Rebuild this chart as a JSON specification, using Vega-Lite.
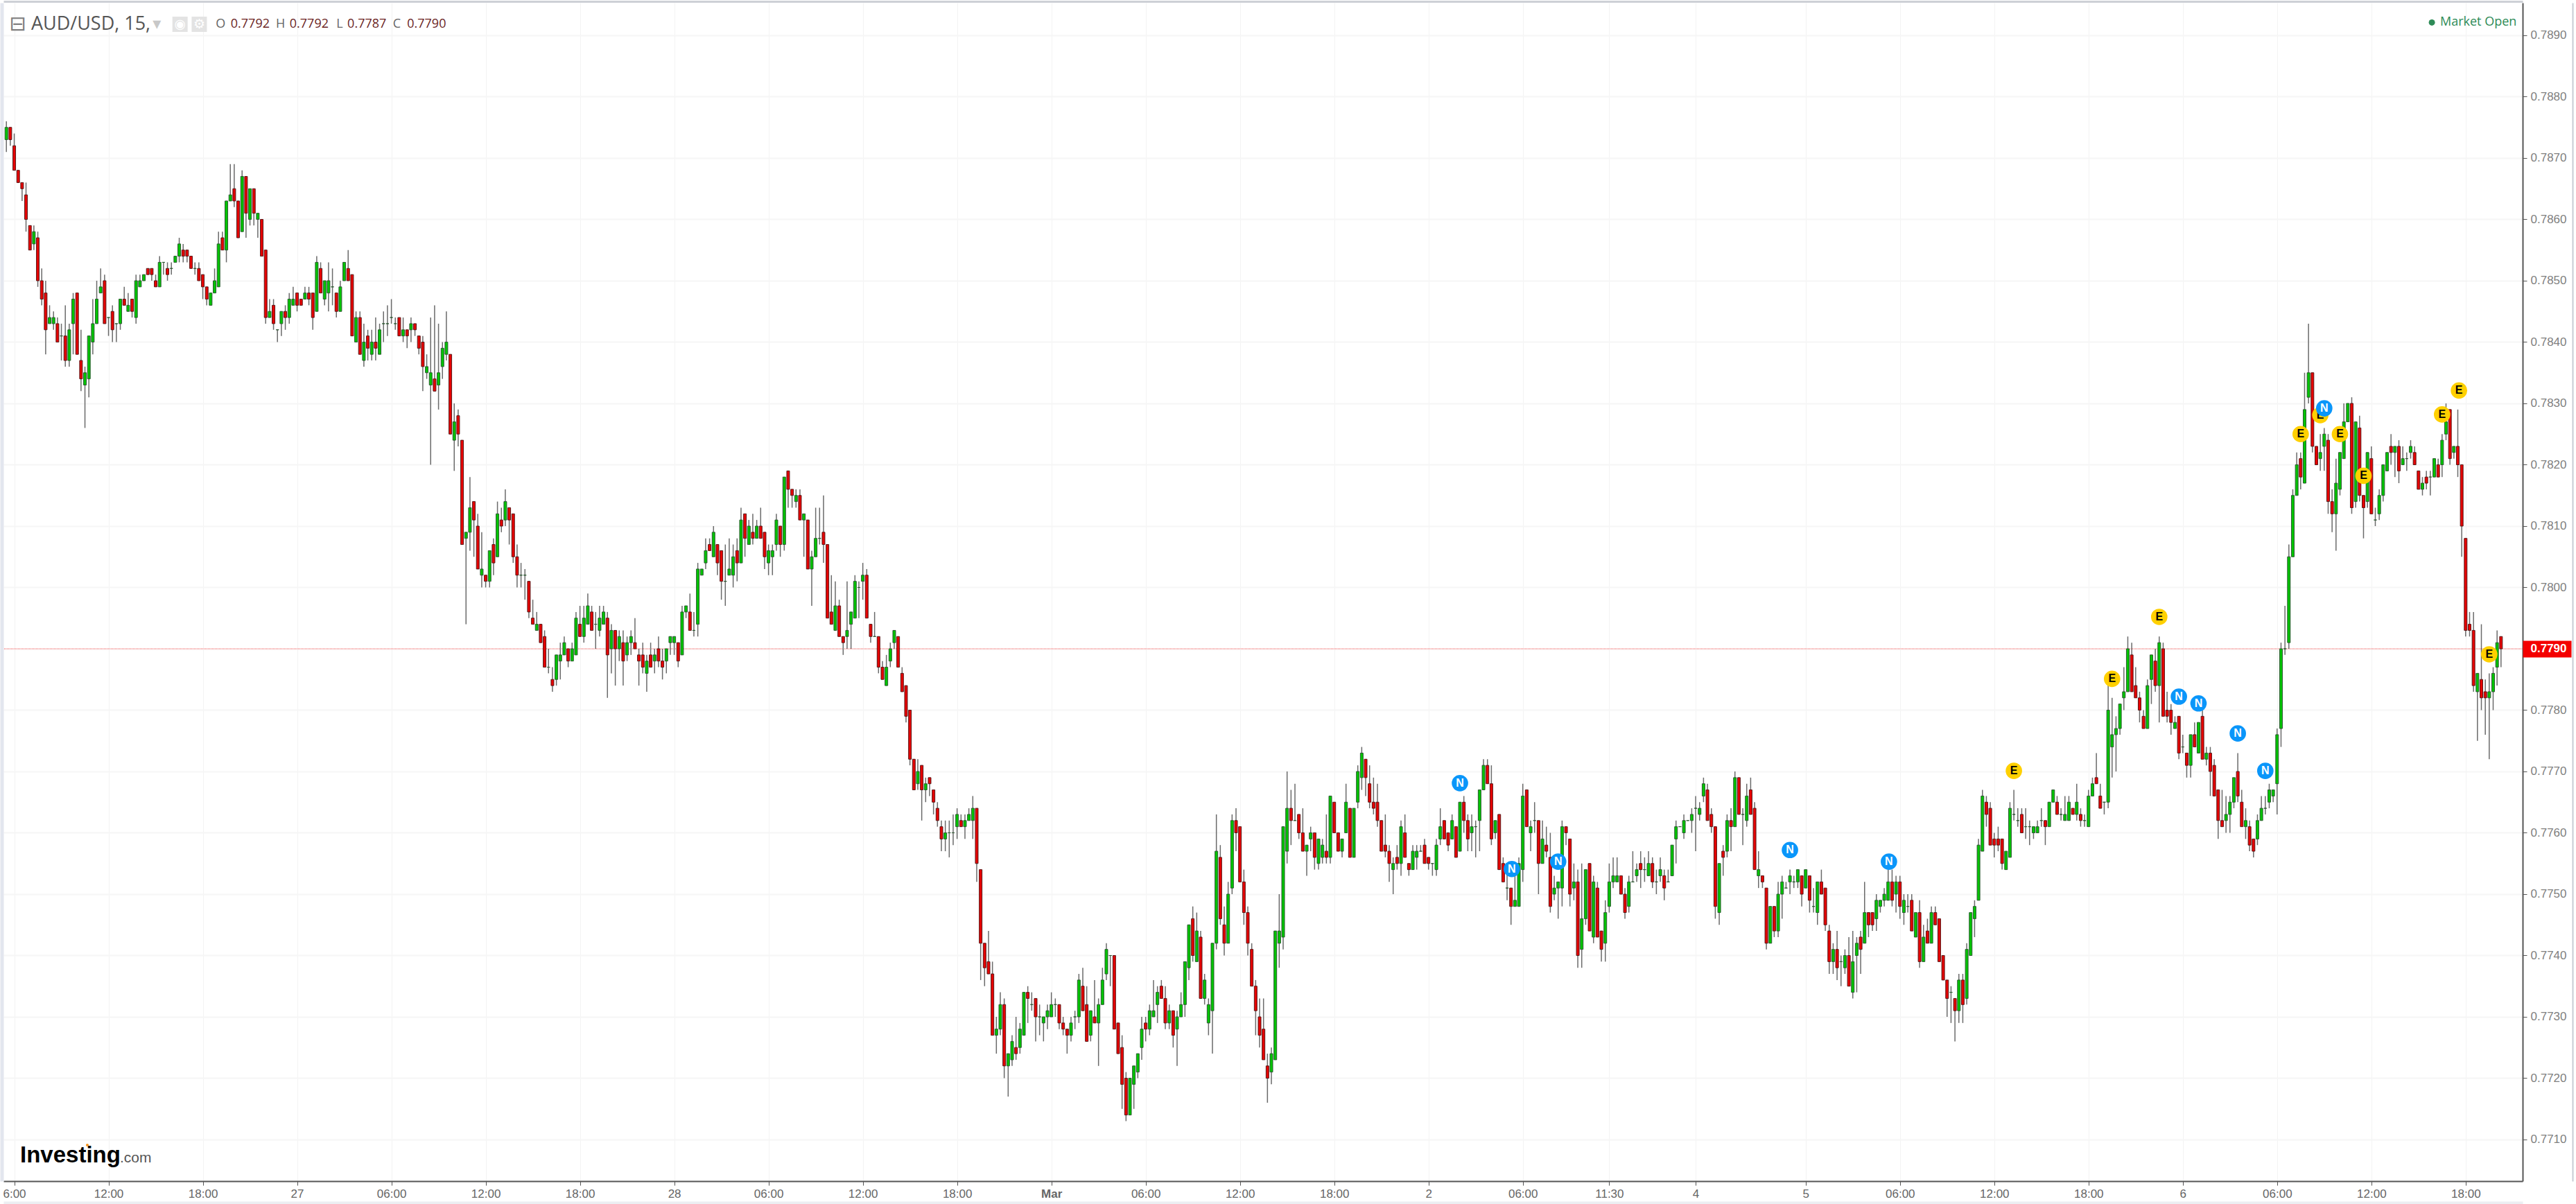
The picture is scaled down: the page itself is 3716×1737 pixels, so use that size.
{"$schema":"https://vega.github.io/schema/vega-lite/v6.json","width":3634,"height":1700,"autosize":"none","padding":{"left":5,"top":4,"right":77,"bottom":33},"background":"#ffffff","config":{"view":{"stroke":null},"scale":{"continuousPadding":0}},
"datasets":{"candles":[
{"i":0,"o":0.7873,"h":0.7876,"l":0.7871,"c":0.7875},{"i":1,"o":0.7875,"h":0.7875,"l":0.7872,"c":0.7873},{"i":2,"o":0.7872,"h":0.7874,"l":0.7868,"c":0.7868},{"i":3,"o":0.7868,"h":0.7868,"l":0.7866,"c":0.7866},{"i":4,"o":0.7866,"h":0.7866,"l":0.7863,"c":0.7865},{"i":5,"o":0.7864,"h":0.7866,"l":0.7858,"c":0.786},{"i":6,"o":0.7859,"h":0.7859,"l":0.7855,"c":0.7855},{"i":7,"o":0.7856,"h":0.7859,"l":0.7855,"c":0.7858},{"i":8,"o":0.7857,"h":0.7858,"l":0.7849,"c":0.785},{"i":9,"o":0.785,"h":0.7852,"l":0.7846,"c":0.7847},
{"i":10,"o":0.7848,"h":0.785,"l":0.7838,"c":0.7842},{"i":11,"o":0.7843,"h":0.7846,"l":0.7843,"c":0.7844},{"i":12,"o":0.7843,"h":0.7845,"l":0.7842,"c":0.7844},{"i":13,"o":0.7843,"h":0.7844,"l":0.784,"c":0.784},{"i":14,"o":0.7841,"h":0.7843,"l":0.7837,"c":0.7841},{"i":15,"o":0.7841,"h":0.7846,"l":0.7836,"c":0.7837},{"i":16,"o":0.7837,"h":0.7843,"l":0.7836,"c":0.7842},{"i":17,"o":0.7843,"h":0.7848,"l":0.7838,"c":0.7847},{"i":18,"o":0.7848,"h":0.7848,"l":0.7838,"c":0.7838},{"i":19,"o":0.7837,"h":0.7842,"l":0.7832,"c":0.7834},
{"i":20,"o":0.7833,"h":0.7836,"l":0.7826,"c":0.7835},{"i":21,"o":0.7834,"h":0.7841,"l":0.7831,"c":0.7841},{"i":22,"o":0.784,"h":0.7847,"l":0.7838,"c":0.7843},{"i":23,"o":0.7843,"h":0.785,"l":0.7843,"c":0.7847},{"i":24,"o":0.7848,"h":0.7852,"l":0.7848,"c":0.7849},{"i":25,"o":0.785,"h":0.7851,"l":0.7843,"c":0.7843},{"i":26,"o":0.7844,"h":0.7844,"l":0.7841,"c":0.7844},{"i":27,"o":0.7845,"h":0.7846,"l":0.784,"c":0.7842},{"i":28,"o":0.7843,"h":0.7843,"l":0.784,"c":0.7843},{"i":29,"o":0.7843,"h":0.7847,"l":0.7842,"c":0.7847},
{"i":30,"o":0.7847,"h":0.7849,"l":0.7846,"c":0.7846},{"i":31,"o":0.7845,"h":0.7848,"l":0.7845,"c":0.7846},{"i":32,"o":0.7847,"h":0.7847,"l":0.7844,"c":0.7845},{"i":33,"o":0.7844,"h":0.7851,"l":0.7843,"c":0.785},{"i":34,"o":0.7849,"h":0.7851,"l":0.7849,"c":0.785},{"i":35,"o":0.785,"h":0.7851,"l":0.785,"c":0.7851},{"i":36,"o":0.7852,"h":0.7852,"l":0.7851,"c":0.7851},{"i":37,"o":0.7852,"h":0.7852,"l":0.785,"c":0.7851},{"i":38,"o":0.785,"h":0.7851,"l":0.7849,"c":0.7849},{"i":39,"o":0.7849,"h":0.7854,"l":0.7849,"c":0.7853},
{"i":40,"o":0.7853,"h":0.7853,"l":0.7851,"c":0.7853},{"i":41,"o":0.7852,"h":0.7853,"l":0.785,"c":0.7851},{"i":42,"o":0.7852,"h":0.7853,"l":0.7851,"c":0.7852},{"i":43,"o":0.7853,"h":0.7854,"l":0.7853,"c":0.7854},{"i":44,"o":0.7854,"h":0.7857,"l":0.7853,"c":0.7856},{"i":45,"o":0.7855,"h":0.7856,"l":0.7853,"c":0.7854},{"i":46,"o":0.7855,"h":0.7855,"l":0.7853,"c":0.7854},{"i":47,"o":0.7854,"h":0.7854,"l":0.7852,"c":0.7852},{"i":48,"o":0.7852,"h":0.7853,"l":0.7851,"c":0.7852},{"i":49,"o":0.7852,"h":0.7853,"l":0.785,"c":0.785},
{"i":50,"o":0.7851,"h":0.7851,"l":0.7847,"c":0.7849},{"i":51,"o":0.7849,"h":0.7849,"l":0.7846,"c":0.7847},{"i":52,"o":0.7846,"h":0.7848,"l":0.7846,"c":0.7848},{"i":53,"o":0.7848,"h":0.7852,"l":0.7848,"c":0.785},{"i":54,"o":0.7849,"h":0.7858,"l":0.7849,"c":0.7856},{"i":55,"o":0.7857,"h":0.7858,"l":0.7855,"c":0.7855},{"i":56,"o":0.7855,"h":0.7863,"l":0.7853,"c":0.7863},{"i":57,"o":0.7863,"h":0.7869,"l":0.7863,"c":0.7864},{"i":58,"o":0.7865,"h":0.7869,"l":0.7862,"c":0.7863},{"i":59,"o":0.7863,"h":0.7863,"l":0.7857,"c":0.7857},
{"i":60,"o":0.7858,"h":0.7868,"l":0.7858,"c":0.7867},{"i":61,"o":0.7867,"h":0.7867,"l":0.7857,"c":0.7861},{"i":62,"o":0.786,"h":0.7865,"l":0.7859,"c":0.7865},{"i":63,"o":0.7865,"h":0.7865,"l":0.7859,"c":0.7861},{"i":64,"o":0.786,"h":0.7861,"l":0.7857,"c":0.7861},{"i":65,"o":0.786,"h":0.786,"l":0.7854,"c":0.7854},{"i":66,"o":0.7855,"h":0.7855,"l":0.7843,"c":0.7844},{"i":67,"o":0.7844,"h":0.7847,"l":0.7844,"c":0.7845},{"i":68,"o":0.7846,"h":0.7847,"l":0.7842,"c":0.7843},{"i":69,"o":0.7842,"h":0.7842,"l":0.784,"c":0.7842},
{"i":70,"o":0.7843,"h":0.7845,"l":0.7841,"c":0.7845},{"i":71,"o":0.7845,"h":0.7846,"l":0.7842,"c":0.7844},{"i":72,"o":0.7844,"h":0.7848,"l":0.7843,"c":0.7847},{"i":73,"o":0.7846,"h":0.7849,"l":0.7846,"c":0.7847},{"i":74,"o":0.7848,"h":0.7848,"l":0.7845,"c":0.7846},{"i":75,"o":0.7847,"h":0.7847,"l":0.7846,"c":0.7846},{"i":76,"o":0.7847,"h":0.7849,"l":0.7847,"c":0.7848},{"i":77,"o":0.7848,"h":0.7849,"l":0.7846,"c":0.7847},{"i":78,"o":0.7848,"h":0.7848,"l":0.7842,"c":0.7844},{"i":79,"o":0.7845,"h":0.7854,"l":0.7845,"c":0.7853},
{"i":80,"o":0.7852,"h":0.7853,"l":0.7848,"c":0.7848},{"i":81,"o":0.7847,"h":0.785,"l":0.7846,"c":0.785},{"i":82,"o":0.7848,"h":0.7853,"l":0.7845,"c":0.785},{"i":83,"o":0.7849,"h":0.7852,"l":0.7846,"c":0.7849},{"i":84,"o":0.7848,"h":0.7848,"l":0.7844,"c":0.7845},{"i":85,"o":0.7845,"h":0.785,"l":0.7845,"c":0.7849},{"i":86,"o":0.785,"h":0.7853,"l":0.785,"c":0.7853},{"i":87,"o":0.7852,"h":0.7855,"l":0.785,"c":0.785},{"i":88,"o":0.7851,"h":0.7851,"l":0.7841,"c":0.7841},{"i":89,"o":0.784,"h":0.7845,"l":0.784,"c":0.7844},
{"i":90,"o":0.7844,"h":0.7845,"l":0.7838,"c":0.7838},{"i":91,"o":0.7837,"h":0.7843,"l":0.7836,"c":0.784},{"i":92,"o":0.7841,"h":0.7842,"l":0.7837,"c":0.7839},{"i":93,"o":0.7838,"h":0.7842,"l":0.7837,"c":0.784},{"i":94,"o":0.784,"h":0.7844,"l":0.7837,"c":0.7839},{"i":95,"o":0.7838,"h":0.7843,"l":0.7838,"c":0.7842},{"i":96,"o":0.7843,"h":0.7845,"l":0.784,"c":0.7843},{"i":97,"o":0.7843,"h":0.7846,"l":0.7841,"c":0.7843},{"i":98,"o":0.7844,"h":0.7847,"l":0.7843,"c":0.7844},{"i":99,"o":0.7843,"h":0.7844,"l":0.7842,"c":0.7843},
{"i":100,"o":0.7844,"h":0.7844,"l":0.7841,"c":0.7841},{"i":101,"o":0.7841,"h":0.7844,"l":0.784,"c":0.7842},{"i":102,"o":0.7842,"h":0.7842,"l":0.7839,"c":0.7841},{"i":103,"o":0.7842,"h":0.7844,"l":0.784,"c":0.7843},{"i":104,"o":0.7843,"h":0.7843,"l":0.7841,"c":0.7842},{"i":105,"o":0.7841,"h":0.7841,"l":0.7838,"c":0.7839},{"i":106,"o":0.784,"h":0.7841,"l":0.7832,"c":0.7836},{"i":107,"o":0.7835,"h":0.7838,"l":0.7834,"c":0.7836},{"i":108,"o":0.7833,"h":0.7844,"l":0.782,"c":0.7835},{"i":109,"o":0.7834,"h":0.7846,"l":0.7832,"c":0.7832},
{"i":110,"o":0.7833,"h":0.7843,"l":0.7829,"c":0.7835},{"i":111,"o":0.7836,"h":0.784,"l":0.7834,"c":0.7839},{"i":112,"o":0.7838,"h":0.7845,"l":0.7837,"c":0.784},{"i":113,"o":0.7838,"h":0.7838,"l":0.7825,"c":0.7825},{"i":114,"o":0.7824,"h":0.783,"l":0.7819,"c":0.7827},{"i":115,"o":0.7828,"h":0.7829,"l":0.7823,"c":0.7825},{"i":116,"o":0.7824,"h":0.7824,"l":0.7807,"c":0.7807},{"i":117,"o":0.7808,"h":0.7809,"l":0.7794,"c":0.7809},{"i":118,"o":0.7809,"h":0.7818,"l":0.7806,"c":0.7813},{"i":119,"o":0.7814,"h":0.7814,"l":0.7805,"c":0.7811},
{"i":120,"o":0.781,"h":0.7812,"l":0.7803,"c":0.7803},{"i":121,"o":0.7802,"h":0.7809,"l":0.78,"c":0.7803},{"i":122,"o":0.7802,"h":0.7802,"l":0.78,"c":0.7801},{"i":123,"o":0.7801,"h":0.7806,"l":0.78,"c":0.7806},{"i":124,"o":0.7807,"h":0.7808,"l":0.7802,"c":0.7804},{"i":125,"o":0.7805,"h":0.7814,"l":0.7805,"c":0.7812},{"i":126,"o":0.7811,"h":0.7813,"l":0.7809,"c":0.781},{"i":127,"o":0.7811,"h":0.7816,"l":0.781,"c":0.7814},{"i":128,"o":0.7813,"h":0.7813,"l":0.7807,"c":0.7811},{"i":129,"o":0.7812,"h":0.7812,"l":0.7804,"c":0.7805},
{"i":130,"o":0.7805,"h":0.7807,"l":0.78,"c":0.7802},{"i":131,"o":0.7802,"h":0.7804,"l":0.78,"c":0.7802},{"i":132,"o":0.7802,"h":0.7803,"l":0.7798,"c":0.7802},{"i":133,"o":0.7801,"h":0.7801,"l":0.7795,"c":0.7796},{"i":134,"o":0.7795,"h":0.7798,"l":0.7794,"c":0.7794},{"i":135,"o":0.7793,"h":0.7796,"l":0.7793,"c":0.7794},{"i":136,"o":0.7794,"h":0.7794,"l":0.7791,"c":0.7791},{"i":137,"o":0.7792,"h":0.7793,"l":0.7787,"c":0.7787},{"i":138,"o":0.7787,"h":0.779,"l":0.7786,"c":0.7787},{"i":139,"o":0.7785,"h":0.7787,"l":0.7783,"c":0.7784},
{"i":140,"o":0.7785,"h":0.7789,"l":0.7784,"c":0.7789},{"i":141,"o":0.7788,"h":0.7791,"l":0.7785,"c":0.7789},{"i":142,"o":0.7789,"h":0.7792,"l":0.7789,"c":0.7791},{"i":143,"o":0.779,"h":0.779,"l":0.7787,"c":0.7788},{"i":144,"o":0.7788,"h":0.7791,"l":0.7788,"c":0.779},{"i":145,"o":0.7789,"h":0.7796,"l":0.7789,"c":0.7795},{"i":146,"o":0.7794,"h":0.7797,"l":0.7792,"c":0.7792},{"i":147,"o":0.7792,"h":0.7797,"l":0.7791,"c":0.7795},{"i":148,"o":0.7794,"h":0.7799,"l":0.7794,"c":0.7797},{"i":149,"o":0.7796,"h":0.7797,"l":0.7793,"c":0.7793},
{"i":150,"o":0.7794,"h":0.7796,"l":0.779,"c":0.7794},{"i":151,"o":0.7793,"h":0.7797,"l":0.7792,"c":0.7795},{"i":152,"o":0.7794,"h":0.7797,"l":0.7794,"c":0.7796},{"i":153,"o":0.7795,"h":0.7796,"l":0.7782,"c":0.7789},{"i":154,"o":0.779,"h":0.7794,"l":0.7786,"c":0.7793},{"i":155,"o":0.7793,"h":0.7793,"l":0.7784,"c":0.779},{"i":156,"o":0.779,"h":0.7793,"l":0.7788,"c":0.7792},{"i":157,"o":0.7791,"h":0.7793,"l":0.7784,"c":0.7788},{"i":158,"o":0.7789,"h":0.7792,"l":0.7788,"c":0.7791},{"i":159,"o":0.7791,"h":0.7793,"l":0.7789,"c":0.7792},
{"i":160,"o":0.7791,"h":0.7795,"l":0.779,"c":0.779},{"i":161,"o":0.7789,"h":0.779,"l":0.7784,"c":0.7788},{"i":162,"o":0.7789,"h":0.7791,"l":0.7786,"c":0.7787},{"i":163,"o":0.7786,"h":0.7789,"l":0.7783,"c":0.7788},{"i":164,"o":0.7789,"h":0.7791,"l":0.7787,"c":0.7787},{"i":165,"o":0.7788,"h":0.779,"l":0.7786,"c":0.7789},{"i":166,"o":0.779,"h":0.7792,"l":0.7787,"c":0.7788},{"i":167,"o":0.7788,"h":0.779,"l":0.7785,"c":0.7787},{"i":168,"o":0.7788,"h":0.779,"l":0.7786,"c":0.779},{"i":169,"o":0.7791,"h":0.7792,"l":0.7789,"c":0.7792},
{"i":170,"o":0.7791,"h":0.7792,"l":0.7789,"c":0.7792},{"i":171,"o":0.7791,"h":0.7791,"l":0.7787,"c":0.7788},{"i":172,"o":0.7789,"h":0.7797,"l":0.7789,"c":0.7796},{"i":173,"o":0.7796,"h":0.7797,"l":0.7795,"c":0.7797},{"i":174,"o":0.7796,"h":0.7799,"l":0.7793,"c":0.7793},{"i":175,"o":0.7793,"h":0.7796,"l":0.7792,"c":0.7793},{"i":176,"o":0.7794,"h":0.7804,"l":0.7792,"c":0.7803},{"i":177,"o":0.7802,"h":0.7803,"l":0.7802,"c":0.7803},{"i":178,"o":0.7804,"h":0.7808,"l":0.7803,"c":0.7806},{"i":179,"o":0.7807,"h":0.7808,"l":0.7806,"c":0.7806},
{"i":180,"o":0.7805,"h":0.781,"l":0.7805,"c":0.7809},{"i":181,"o":0.7807,"h":0.7807,"l":0.7802,"c":0.7804},{"i":182,"o":0.7806,"h":0.7806,"l":0.7798,"c":0.7801},{"i":183,"o":0.7801,"h":0.7807,"l":0.7797,"c":0.7801},{"i":184,"o":0.7802,"h":0.7808,"l":0.7802,"c":0.7803},{"i":185,"o":0.7802,"h":0.7807,"l":0.78,"c":0.7805},{"i":186,"o":0.7806,"h":0.7808,"l":0.7801,"c":0.7804},{"i":187,"o":0.7804,"h":0.7813,"l":0.7804,"c":0.7811},{"i":188,"o":0.7812,"h":0.7812,"l":0.7805,"c":0.7808},{"i":189,"o":0.7807,"h":0.7811,"l":0.7807,"c":0.781},
{"i":190,"o":0.7809,"h":0.7812,"l":0.7807,"c":0.7808},{"i":191,"o":0.7808,"h":0.7811,"l":0.7808,"c":0.781},{"i":192,"o":0.781,"h":0.7813,"l":0.7808,"c":0.7808},{"i":193,"o":0.7809,"h":0.7809,"l":0.7803,"c":0.7805},{"i":194,"o":0.7804,"h":0.7807,"l":0.7802,"c":0.7806},{"i":195,"o":0.7805,"h":0.7807,"l":0.7802,"c":0.7806},{"i":196,"o":0.7807,"h":0.7812,"l":0.7806,"c":0.7811},{"i":197,"o":0.781,"h":0.781,"l":0.7805,"c":0.7807},{"i":198,"o":0.7807,"h":0.7818,"l":0.7806,"c":0.7818},{"i":199,"o":0.7819,"h":0.7819,"l":0.7813,"c":0.7816},
{"i":200,"o":0.7816,"h":0.7816,"l":0.7813,"c":0.7815},{"i":201,"o":0.7814,"h":0.7816,"l":0.7813,"c":0.7815},{"i":202,"o":0.7815,"h":0.7816,"l":0.7811,"c":0.7811},{"i":203,"o":0.7811,"h":0.7812,"l":0.7805,"c":0.7812},{"i":204,"o":0.7811,"h":0.7811,"l":0.7803,"c":0.7803},{"i":205,"o":0.7803,"h":0.7806,"l":0.7797,"c":0.7805},{"i":206,"o":0.7805,"h":0.7813,"l":0.7805,"c":0.7808},{"i":207,"o":0.7808,"h":0.7813,"l":0.7807,"c":0.7808},{"i":208,"o":0.7809,"h":0.7815,"l":0.7804,"c":0.7807},{"i":209,"o":0.7807,"h":0.7807,"l":0.7795,"c":0.7795},
{"i":210,"o":0.7796,"h":0.7802,"l":0.7794,"c":0.7794},{"i":211,"o":0.7793,"h":0.7801,"l":0.7793,"c":0.7797},{"i":212,"o":0.7797,"h":0.7798,"l":0.7792,"c":0.7792},{"i":213,"o":0.7792,"h":0.7792,"l":0.7789,"c":0.7791},{"i":214,"o":0.7792,"h":0.7801,"l":0.779,"c":0.7793},{"i":215,"o":0.7794,"h":0.7796,"l":0.779,"c":0.7796},{"i":216,"o":0.7795,"h":0.7802,"l":0.7795,"c":0.7801},{"i":217,"o":0.78,"h":0.7801,"l":0.7795,"c":0.78},{"i":218,"o":0.7801,"h":0.7804,"l":0.7798,"c":0.7802},{"i":219,"o":0.7802,"h":0.7803,"l":0.7795,"c":0.7795},
{"i":220,"o":0.7794,"h":0.7794,"l":0.7791,"c":0.7792},{"i":221,"o":0.7792,"h":0.7796,"l":0.7792,"c":0.7792},{"i":222,"o":0.7792,"h":0.7792,"l":0.7786,"c":0.7787},{"i":223,"o":0.7787,"h":0.7788,"l":0.7785,"c":0.7785},{"i":224,"o":0.7784,"h":0.7789,"l":0.7784,"c":0.7787},{"i":225,"o":0.7788,"h":0.7791,"l":0.7787,"c":0.779},{"i":226,"o":0.7791,"h":0.7793,"l":0.779,"c":0.7793},{"i":227,"o":0.7792,"h":0.7792,"l":0.7787,"c":0.7787},{"i":228,"o":0.7786,"h":0.7787,"l":0.7783,"c":0.7783},{"i":229,"o":0.7784,"h":0.7784,"l":0.7778,"c":0.7779},
{"i":230,"o":0.778,"h":0.778,"l":0.7771,"c":0.7772},{"i":231,"o":0.7772,"h":0.7772,"l":0.7767,"c":0.7767},{"i":232,"o":0.7768,"h":0.7772,"l":0.7767,"c":0.777},{"i":233,"o":0.7771,"h":0.7771,"l":0.7762,"c":0.7767},{"i":234,"o":0.7767,"h":0.7769,"l":0.7765,"c":0.7768},{"i":235,"o":0.7769,"h":0.7769,"l":0.7766,"c":0.7768},{"i":236,"o":0.7767,"h":0.7767,"l":0.7763,"c":0.7765},{"i":237,"o":0.7764,"h":0.7765,"l":0.7761,"c":0.7762},{"i":238,"o":0.7761,"h":0.7762,"l":0.7757,"c":0.7759},{"i":239,"o":0.7759,"h":0.7762,"l":0.7757,"c":0.776},
{"i":240,"o":0.776,"h":0.7762,"l":0.7756,"c":0.776},{"i":241,"o":0.776,"h":0.7763,"l":0.7758,"c":0.776},{"i":242,"o":0.7761,"h":0.7764,"l":0.7759,"c":0.7763},{"i":243,"o":0.7762,"h":0.7763,"l":0.7761,"c":0.7761},{"i":244,"o":0.7761,"h":0.7763,"l":0.7759,"c":0.7762},{"i":245,"o":0.7762,"h":0.7764,"l":0.7762,"c":0.7763},{"i":246,"o":0.7762,"h":0.7766,"l":0.7759,"c":0.7764},{"i":247,"o":0.7764,"h":0.7764,"l":0.7752,"c":0.7755},{"i":248,"o":0.7754,"h":0.7754,"l":0.7736,"c":0.7742},{"i":249,"o":0.7742,"h":0.7742,"l":0.7735,"c":0.7738},
{"i":250,"o":0.7739,"h":0.7744,"l":0.7737,"c":0.7737},{"i":251,"o":0.7737,"h":0.7739,"l":0.7727,"c":0.7727},{"i":252,"o":0.7727,"h":0.773,"l":0.7724,"c":0.7728},{"i":253,"o":0.7728,"h":0.7734,"l":0.7727,"c":0.7732},{"i":254,"o":0.7732,"h":0.7733,"l":0.772,"c":0.7722},{"i":255,"o":0.7722,"h":0.7724,"l":0.7717,"c":0.7724},{"i":256,"o":0.7723,"h":0.7727,"l":0.7722,"c":0.7726},{"i":257,"o":0.7725,"h":0.773,"l":0.7723,"c":0.7724},{"i":258,"o":0.7725,"h":0.7729,"l":0.7724,"c":0.7728},{"i":259,"o":0.7727,"h":0.7734,"l":0.7727,"c":0.7734},
{"i":260,"o":0.7734,"h":0.7735,"l":0.7729,"c":0.7733},{"i":261,"o":0.7732,"h":0.7734,"l":0.7731,"c":0.7732},{"i":262,"o":0.7733,"h":0.7733,"l":0.7726,"c":0.773},{"i":263,"o":0.773,"h":0.7732,"l":0.7727,"c":0.773},{"i":264,"o":0.7729,"h":0.773,"l":0.7726,"c":0.773},{"i":265,"o":0.773,"h":0.7732,"l":0.7728,"c":0.7731},{"i":266,"o":0.773,"h":0.7734,"l":0.773,"c":0.7732},{"i":267,"o":0.7732,"h":0.7733,"l":0.773,"c":0.7732},{"i":268,"o":0.7732,"h":0.7732,"l":0.7728,"c":0.7729},{"i":269,"o":0.7729,"h":0.773,"l":0.7727,"c":0.7728},
{"i":270,"o":0.7728,"h":0.7728,"l":0.7724,"c":0.7727},{"i":271,"o":0.7727,"h":0.773,"l":0.7726,"c":0.7729},{"i":272,"o":0.773,"h":0.7731,"l":0.7728,"c":0.773},{"i":273,"o":0.773,"h":0.7737,"l":0.7729,"c":0.7736},{"i":274,"o":0.7735,"h":0.7738,"l":0.7731,"c":0.7731},{"i":275,"o":0.7732,"h":0.7735,"l":0.7726,"c":0.7726},{"i":276,"o":0.7727,"h":0.7731,"l":0.7726,"c":0.7731},{"i":277,"o":0.773,"h":0.7736,"l":0.7729,"c":0.7729},{"i":278,"o":0.7729,"h":0.7733,"l":0.7722,"c":0.7732},{"i":279,"o":0.7732,"h":0.7738,"l":0.7732,"c":0.7736},
{"i":280,"o":0.7737,"h":0.7742,"l":0.7736,"c":0.7741},{"i":281,"o":0.774,"h":0.774,"l":0.7735,"c":0.774},{"i":282,"o":0.774,"h":0.774,"l":0.7728,"c":0.7728},{"i":283,"o":0.7729,"h":0.7729,"l":0.7724,"c":0.7724},{"i":284,"o":0.7725,"h":0.7727,"l":0.7715,"c":0.7719},{"i":285,"o":0.772,"h":0.7721,"l":0.7713,"c":0.7714},{"i":286,"o":0.7714,"h":0.772,"l":0.7714,"c":0.772},{"i":287,"o":0.7719,"h":0.7722,"l":0.7715,"c":0.7722},{"i":288,"o":0.7721,"h":0.7724,"l":0.772,"c":0.7724},{"i":289,"o":0.7725,"h":0.773,"l":0.7723,"c":0.7728},
{"i":290,"o":0.7729,"h":0.773,"l":0.7726,"c":0.7728},{"i":291,"o":0.7728,"h":0.7732,"l":0.7727,"c":0.7731},{"i":292,"o":0.773,"h":0.7736,"l":0.773,"c":0.7731},{"i":293,"o":0.7732,"h":0.7735,"l":0.7729,"c":0.7734},{"i":294,"o":0.7735,"h":0.7736,"l":0.7733,"c":0.7733},{"i":295,"o":0.7733,"h":0.7735,"l":0.7728,"c":0.7729},{"i":296,"o":0.7729,"h":0.7732,"l":0.7728,"c":0.7731},{"i":297,"o":0.7731,"h":0.7731,"l":0.7725,"c":0.7727},{"i":298,"o":0.7728,"h":0.7731,"l":0.7722,"c":0.773},{"i":299,"o":0.773,"h":0.7734,"l":0.773,"c":0.7732},
{"i":300,"o":0.7732,"h":0.7739,"l":0.773,"c":0.7739},{"i":301,"o":0.7738,"h":0.7745,"l":0.7736,"c":0.7745},{"i":302,"o":0.7746,"h":0.7748,"l":0.7739,"c":0.774},{"i":303,"o":0.7739,"h":0.7747,"l":0.7739,"c":0.7744},{"i":304,"o":0.7743,"h":0.7744,"l":0.7733,"c":0.7733},{"i":305,"o":0.7733,"h":0.7737,"l":0.7732,"c":0.7736},{"i":306,"o":0.7729,"h":0.7733,"l":0.7727,"c":0.7732},{"i":307,"o":0.7731,"h":0.7742,"l":0.7724,"c":0.7742},{"i":308,"o":0.7742,"h":0.7763,"l":0.7741,"c":0.7757},{"i":309,"o":0.7756,"h":0.7758,"l":0.7745,"c":0.7746},
{"i":310,"o":0.7745,"h":0.7748,"l":0.774,"c":0.7742},{"i":311,"o":0.7742,"h":0.7752,"l":0.7742,"c":0.775},{"i":312,"o":0.7751,"h":0.7763,"l":0.775,"c":0.7762},{"i":313,"o":0.7762,"h":0.7764,"l":0.7757,"c":0.776},{"i":314,"o":0.7761,"h":0.7761,"l":0.7752,"c":0.7752},{"i":315,"o":0.7752,"h":0.7754,"l":0.7745,"c":0.7747},{"i":316,"o":0.7747,"h":0.7748,"l":0.774,"c":0.7742},{"i":317,"o":0.7741,"h":0.7742,"l":0.7735,"c":0.7735},{"i":318,"o":0.7735,"h":0.7736,"l":0.7727,"c":0.7731},{"i":319,"o":0.773,"h":0.7733,"l":0.7725,"c":0.7727},
{"i":320,"o":0.7728,"h":0.7733,"l":0.7723,"c":0.7723},{"i":321,"o":0.7722,"h":0.7724,"l":0.7716,"c":0.772},{"i":322,"o":0.7721,"h":0.7725,"l":0.7719,"c":0.7724},{"i":323,"o":0.7723,"h":0.7744,"l":0.7723,"c":0.7744},{"i":324,"o":0.7742,"h":0.775,"l":0.7738,"c":0.7744},{"i":325,"o":0.7743,"h":0.7761,"l":0.7741,"c":0.7761},{"i":326,"o":0.7757,"h":0.777,"l":0.7755,"c":0.7764},{"i":327,"o":0.7764,"h":0.7767,"l":0.7758,"c":0.7762},{"i":328,"o":0.7762,"h":0.7768,"l":0.7762,"c":0.7762},{"i":329,"o":0.7763,"h":0.7763,"l":0.7759,"c":0.776},
{"i":330,"o":0.776,"h":0.7764,"l":0.7757,"c":0.7757},{"i":331,"o":0.7757,"h":0.7758,"l":0.7753,"c":0.7758},{"i":332,"o":0.7759,"h":0.7761,"l":0.7757,"c":0.776},{"i":333,"o":0.776,"h":0.776,"l":0.7754,"c":0.7756},{"i":334,"o":0.7755,"h":0.7759,"l":0.7754,"c":0.7759},{"i":335,"o":0.7756,"h":0.7759,"l":0.7755,"c":0.7758},{"i":336,"o":0.7757,"h":0.7763,"l":0.7755,"c":0.7756},{"i":337,"o":0.7756,"h":0.7766,"l":0.7755,"c":0.7766},{"i":338,"o":0.7765,"h":0.7765,"l":0.776,"c":0.776},{"i":339,"o":0.776,"h":0.776,"l":0.7757,"c":0.7757},
{"i":340,"o":0.7757,"h":0.7759,"l":0.7756,"c":0.7759},{"i":341,"o":0.776,"h":0.7768,"l":0.776,"c":0.7765},{"i":342,"o":0.7764,"h":0.7764,"l":0.7756,"c":0.7756},{"i":343,"o":0.7756,"h":0.7764,"l":0.7756,"c":0.7764},{"i":344,"o":0.7765,"h":0.7771,"l":0.7764,"c":0.777},{"i":345,"o":0.7769,"h":0.7774,"l":0.7767,"c":0.7773},{"i":346,"o":0.7772,"h":0.7772,"l":0.7766,"c":0.7769},{"i":347,"o":0.7768,"h":0.7771,"l":0.7764,"c":0.7765},{"i":348,"o":0.7765,"h":0.7769,"l":0.7763,"c":0.7764},{"i":349,"o":0.7765,"h":0.7768,"l":0.7761,"c":0.7762},
{"i":350,"o":0.7762,"h":0.7762,"l":0.7757,"c":0.7757},{"i":351,"o":0.7758,"h":0.7763,"l":0.7756,"c":0.7757},{"i":352,"o":0.7757,"h":0.7758,"l":0.7752,"c":0.7755},{"i":353,"o":0.7754,"h":0.7756,"l":0.775,"c":0.7755},{"i":354,"o":0.7756,"h":0.7758,"l":0.7754,"c":0.7755},{"i":355,"o":0.7755,"h":0.7762,"l":0.7753,"c":0.7761},{"i":356,"o":0.776,"h":0.7763,"l":0.7756,"c":0.7756},{"i":357,"o":0.7755,"h":0.7755,"l":0.7753,"c":0.7754},{"i":358,"o":0.7754,"h":0.7758,"l":0.7754,"c":0.7757},{"i":359,"o":0.7756,"h":0.7758,"l":0.7754,"c":0.7757},
{"i":360,"o":0.7757,"h":0.7758,"l":0.7757,"c":0.7757},{"i":361,"o":0.7758,"h":0.7759,"l":0.7755,"c":0.7755},{"i":362,"o":0.7756,"h":0.7756,"l":0.7754,"c":0.7755},{"i":363,"o":0.7755,"h":0.7755,"l":0.7753,"c":0.7755},{"i":364,"o":0.7754,"h":0.7759,"l":0.7753,"c":0.7758},{"i":365,"o":0.7759,"h":0.7764,"l":0.7758,"c":0.7761},{"i":366,"o":0.7762,"h":0.7762,"l":0.7759,"c":0.7759},{"i":367,"o":0.776,"h":0.776,"l":0.7757,"c":0.7758},{"i":368,"o":0.7759,"h":0.7763,"l":0.7759,"c":0.7762},{"i":369,"o":0.7761,"h":0.7761,"l":0.7756,"c":0.7756},
{"i":370,"o":0.7757,"h":0.7765,"l":0.7757,"c":0.7765},{"i":371,"o":0.7765,"h":0.7766,"l":0.776,"c":0.7762},{"i":372,"o":0.7762,"h":0.7763,"l":0.7757,"c":0.7759},{"i":373,"o":0.776,"h":0.7763,"l":0.7757,"c":0.7761},{"i":374,"o":0.7761,"h":0.7762,"l":0.7756,"c":0.7761},{"i":375,"o":0.7762,"h":0.7767,"l":0.7757,"c":0.7767},{"i":376,"o":0.7767,"h":0.7772,"l":0.7767,"c":0.7771},{"i":377,"o":0.7771,"h":0.7772,"l":0.7768,"c":0.7768},{"i":378,"o":0.7768,"h":0.7771,"l":0.7758,"c":0.7759},{"i":379,"o":0.776,"h":0.7762,"l":0.7759,"c":0.7762},
{"i":380,"o":0.7763,"h":0.7763,"l":0.7754,"c":0.7754},{"i":381,"o":0.7755,"h":0.7756,"l":0.7752,"c":0.7752},{"i":382,"o":0.7751,"h":0.7754,"l":0.7749,"c":0.7751},{"i":383,"o":0.7751,"h":0.7751,"l":0.7745,"c":0.7748},{"i":384,"o":0.7748,"h":0.7753,"l":0.7748,"c":0.7749},{"i":385,"o":0.7748,"h":0.7756,"l":0.7748,"c":0.7755},{"i":386,"o":0.7754,"h":0.7768,"l":0.7752,"c":0.7766},{"i":387,"o":0.7767,"h":0.7767,"l":0.7761,"c":0.7761},{"i":388,"o":0.776,"h":0.7762,"l":0.7757,"c":0.7761},{"i":389,"o":0.7762,"h":0.7765,"l":0.776,"c":0.7762},
{"i":390,"o":0.7762,"h":0.7762,"l":0.775,"c":0.7755},{"i":391,"o":0.7755,"h":0.7762,"l":0.7755,"c":0.7759},{"i":392,"o":0.7758,"h":0.7761,"l":0.7756,"c":0.7757},{"i":393,"o":0.7756,"h":0.776,"l":0.7747,"c":0.7748},{"i":394,"o":0.775,"h":0.7753,"l":0.7749,"c":0.7751},{"i":395,"o":0.7751,"h":0.7752,"l":0.7746,"c":0.7752},{"i":396,"o":0.7751,"h":0.7762,"l":0.7748,"c":0.7761},{"i":397,"o":0.7761,"h":0.7761,"l":0.7758,"c":0.776},{"i":398,"o":0.7759,"h":0.7759,"l":0.7748,"c":0.775},{"i":399,"o":0.7751,"h":0.7755,"l":0.7749,"c":0.7752},
{"i":400,"o":0.7752,"h":0.7754,"l":0.7738,"c":0.774},{"i":401,"o":0.7741,"h":0.7755,"l":0.7738,"c":0.7746},{"i":402,"o":0.7746,"h":0.7754,"l":0.7745,"c":0.7754},{"i":403,"o":0.7755,"h":0.7755,"l":0.7744,"c":0.7744},{"i":404,"o":0.7743,"h":0.7753,"l":0.7742,"c":0.7752},{"i":405,"o":0.7751,"h":0.7752,"l":0.7743,"c":0.7743},{"i":406,"o":0.7744,"h":0.7744,"l":0.7739,"c":0.7741},{"i":407,"o":0.7742,"h":0.7749,"l":0.7739,"c":0.7747},{"i":408,"o":0.7748,"h":0.7755,"l":0.7747,"c":0.7752},{"i":409,"o":0.7752,"h":0.7756,"l":0.7751,"c":0.7753},
{"i":410,"o":0.7752,"h":0.7756,"l":0.7752,"c":0.7753},{"i":411,"o":0.7753,"h":0.7753,"l":0.775,"c":0.775},{"i":412,"o":0.775,"h":0.7751,"l":0.7746,"c":0.7747},{"i":413,"o":0.7748,"h":0.7753,"l":0.7747,"c":0.7752},{"i":414,"o":0.7752,"h":0.7757,"l":0.7752,"c":0.7752},{"i":415,"o":0.7753,"h":0.7755,"l":0.7752,"c":0.7754},{"i":416,"o":0.7755,"h":0.7757,"l":0.7751,"c":0.7754},{"i":417,"o":0.7754,"h":0.7756,"l":0.7752,"c":0.7754},{"i":418,"o":0.7753,"h":0.7757,"l":0.7753,"c":0.7755},{"i":419,"o":0.7755,"h":0.7756,"l":0.7751,"c":0.7752},
{"i":420,"o":0.7752,"h":0.7754,"l":0.775,"c":0.7752},{"i":421,"o":0.7753,"h":0.7756,"l":0.7752,"c":0.7754},{"i":422,"o":0.7753,"h":0.7754,"l":0.7749,"c":0.7751},{"i":423,"o":0.7752,"h":0.7754,"l":0.7752,"c":0.7752},{"i":424,"o":0.7753,"h":0.7758,"l":0.7753,"c":0.7758},{"i":425,"o":0.7759,"h":0.7762,"l":0.7755,"c":0.7761},{"i":426,"o":0.7761,"h":0.7761,"l":0.7761,"c":0.7761},{"i":427,"o":0.776,"h":0.7763,"l":0.7759,"c":0.7762},{"i":428,"o":0.7762,"h":0.7762,"l":0.7762,"c":0.7762},{"i":429,"o":0.7762,"h":0.7764,"l":0.776,"c":0.7763},
{"i":430,"o":0.7764,"h":0.7766,"l":0.7757,"c":0.7764},{"i":431,"o":0.7763,"h":0.7765,"l":0.7762,"c":0.7764},{"i":432,"o":0.7766,"h":0.7769,"l":0.7765,"c":0.7768},{"i":433,"o":0.7767,"h":0.7768,"l":0.7762,"c":0.7762},{"i":434,"o":0.7763,"h":0.7764,"l":0.776,"c":0.7761},{"i":435,"o":0.7761,"h":0.7761,"l":0.7746,"c":0.7748},{"i":436,"o":0.7747,"h":0.7755,"l":0.7745,"c":0.7755},{"i":437,"o":0.7757,"h":0.7758,"l":0.7753,"c":0.7756},{"i":438,"o":0.7757,"h":0.7763,"l":0.7756,"c":0.7762},{"i":439,"o":0.7762,"h":0.7764,"l":0.7757,"c":0.7761},
{"i":440,"o":0.7761,"h":0.777,"l":0.7761,"c":0.7769},{"i":441,"o":0.7769,"h":0.7769,"l":0.7763,"c":0.7763},{"i":442,"o":0.7763,"h":0.7764,"l":0.7758,"c":0.7763},{"i":443,"o":0.7762,"h":0.7768,"l":0.7761,"c":0.7766},{"i":444,"o":0.7767,"h":0.7769,"l":0.7763,"c":0.7763},{"i":445,"o":0.7764,"h":0.7765,"l":0.7754,"c":0.7754},{"i":446,"o":0.7753,"h":0.7757,"l":0.7751,"c":0.7754},{"i":447,"o":0.7753,"h":0.7753,"l":0.7751,"c":0.7752},{"i":448,"o":0.7751,"h":0.7751,"l":0.7741,"c":0.7742},{"i":449,"o":0.7742,"h":0.7748,"l":0.7742,"c":0.7748},
{"i":450,"o":0.7748,"h":0.7748,"l":0.7743,"c":0.7744},{"i":451,"o":0.7744,"h":0.7752,"l":0.7743,"c":0.775},{"i":452,"o":0.775,"h":0.7753,"l":0.7746,"c":0.7752},{"i":453,"o":0.7751,"h":0.7752,"l":0.7751,"c":0.7751},{"i":454,"o":0.7752,"h":0.7754,"l":0.775,"c":0.7753},{"i":455,"o":0.7752,"h":0.7753,"l":0.7751,"c":0.7752},{"i":456,"o":0.7752,"h":0.7754,"l":0.7751,"c":0.7754},{"i":457,"o":0.7753,"h":0.7753,"l":0.7748,"c":0.775},{"i":458,"o":0.7751,"h":0.7754,"l":0.7751,"c":0.7754},{"i":459,"o":0.7753,"h":0.7753,"l":0.7747,"c":0.7749},
{"i":460,"o":0.7748,"h":0.7751,"l":0.7747,"c":0.7748},{"i":461,"o":0.7747,"h":0.7752,"l":0.7745,"c":0.7752},{"i":462,"o":0.7752,"h":0.7754,"l":0.775,"c":0.775},{"i":463,"o":0.7751,"h":0.7751,"l":0.7744,"c":0.7745},{"i":464,"o":0.7744,"h":0.7745,"l":0.7737,"c":0.7739},{"i":465,"o":0.7739,"h":0.7742,"l":0.7737,"c":0.7741},{"i":466,"o":0.7741,"h":0.7744,"l":0.7736,"c":0.7738},{"i":467,"o":0.7739,"h":0.774,"l":0.7735,"c":0.7739},{"i":468,"o":0.7738,"h":0.7741,"l":0.7737,"c":0.774},{"i":469,"o":0.774,"h":0.7743,"l":0.7735,"c":0.7735},
{"i":470,"o":0.7734,"h":0.7744,"l":0.7733,"c":0.7739},{"i":471,"o":0.774,"h":0.7743,"l":0.7734,"c":0.7742},{"i":472,"o":0.7743,"h":0.7744,"l":0.7737,"c":0.7741},{"i":473,"o":0.7742,"h":0.7752,"l":0.7742,"c":0.7747},{"i":474,"o":0.7747,"h":0.7747,"l":0.7743,"c":0.7745},{"i":475,"o":0.7747,"h":0.7747,"l":0.7744,"c":0.7745},{"i":476,"o":0.7746,"h":0.775,"l":0.7744,"c":0.7749},{"i":477,"o":0.7748,"h":0.7749,"l":0.7747,"c":0.7749},{"i":478,"o":0.7749,"h":0.7751,"l":0.7748,"c":0.775},{"i":479,"o":0.7749,"h":0.7754,"l":0.7749,"c":0.7752},
{"i":480,"o":0.7752,"h":0.7754,"l":0.7748,"c":0.7749},{"i":481,"o":0.775,"h":0.7753,"l":0.7747,"c":0.7752},{"i":482,"o":0.7752,"h":0.7753,"l":0.7746,"c":0.7748},{"i":483,"o":0.7747,"h":0.775,"l":0.7745,"c":0.7749},{"i":484,"o":0.7748,"h":0.775,"l":0.7747,"c":0.7748},{"i":485,"o":0.7749,"h":0.775,"l":0.7744,"c":0.7744},{"i":486,"o":0.7743,"h":0.7747,"l":0.7743,"c":0.7747},{"i":487,"o":0.7747,"h":0.7749,"l":0.7738,"c":0.7739},{"i":488,"o":0.7739,"h":0.7745,"l":0.7739,"c":0.7743},{"i":489,"o":0.7744,"h":0.7746,"l":0.7742,"c":0.7742},
{"i":490,"o":0.7742,"h":0.7748,"l":0.7742,"c":0.7747},{"i":491,"o":0.7747,"h":0.7748,"l":0.7745,"c":0.7745},{"i":492,"o":0.7746,"h":0.7746,"l":0.7739,"c":0.7739},{"i":493,"o":0.774,"h":0.774,"l":0.7736,"c":0.7736},{"i":494,"o":0.7736,"h":0.7736,"l":0.773,"c":0.7733},{"i":495,"o":0.7734,"h":0.7735,"l":0.7729,"c":0.7734},{"i":496,"o":0.7733,"h":0.7733,"l":0.7726,"c":0.7731},{"i":497,"o":0.7731,"h":0.7737,"l":0.7729,"c":0.7736},{"i":498,"o":0.7736,"h":0.7737,"l":0.7729,"c":0.7732},{"i":499,"o":0.7733,"h":0.7742,"l":0.7732,"c":0.7741},
{"i":500,"o":0.774,"h":0.7747,"l":0.774,"c":0.7747},{"i":501,"o":0.7746,"h":0.7749,"l":0.7743,"c":0.7748},{"i":502,"o":0.7749,"h":0.7759,"l":0.7749,"c":0.7758},{"i":503,"o":0.7757,"h":0.7767,"l":0.7757,"c":0.7766},{"i":504,"o":0.7765,"h":0.7766,"l":0.7761,"c":0.7763},{"i":505,"o":0.7764,"h":0.7765,"l":0.7758,"c":0.7758},{"i":506,"o":0.7759,"h":0.776,"l":0.7756,"c":0.7758},{"i":507,"o":0.7759,"h":0.7761,"l":0.7757,"c":0.7758},{"i":508,"o":0.7759,"h":0.7759,"l":0.7754,"c":0.7755},{"i":509,"o":0.7754,"h":0.7757,"l":0.7754,"c":0.7757},
{"i":510,"o":0.7756,"h":0.7765,"l":0.7756,"c":0.7764},{"i":511,"o":0.7763,"h":0.7767,"l":0.7762,"c":0.7763},{"i":512,"o":0.7762,"h":0.7764,"l":0.7761,"c":0.7762},{"i":513,"o":0.7763,"h":0.7764,"l":0.776,"c":0.776},{"i":514,"o":0.7761,"h":0.7764,"l":0.7759,"c":0.7761},{"i":515,"o":0.7761,"h":0.7762,"l":0.7758,"c":0.7761},{"i":516,"o":0.776,"h":0.7761,"l":0.7759,"c":0.7761},{"i":517,"o":0.776,"h":0.7762,"l":0.776,"c":0.7761},{"i":518,"o":0.7762,"h":0.7764,"l":0.7761,"c":0.7762},{"i":519,"o":0.7762,"h":0.7762,"l":0.7758,"c":0.7761},
{"i":520,"o":0.7761,"h":0.7765,"l":0.7761,"c":0.7765},{"i":521,"o":0.7765,"h":0.7767,"l":0.7765,"c":0.7767},{"i":522,"o":0.7765,"h":0.7766,"l":0.7763,"c":0.7763},{"i":523,"o":0.7763,"h":0.7764,"l":0.7762,"c":0.7763},{"i":524,"o":0.7762,"h":0.7766,"l":0.7762,"c":0.7763},{"i":525,"o":0.7762,"h":0.7766,"l":0.7762,"c":0.7765},{"i":526,"o":0.7764,"h":0.7764,"l":0.7763,"c":0.7763},{"i":527,"o":0.7763,"h":0.7768,"l":0.7762,"c":0.7765},{"i":528,"o":0.7763,"h":0.7764,"l":0.7761,"c":0.7762},{"i":529,"o":0.7762,"h":0.7763,"l":0.7761,"c":0.7762},
{"i":530,"o":0.7761,"h":0.7767,"l":0.7761,"c":0.7766},{"i":531,"o":0.7766,"h":0.7769,"l":0.7766,"c":0.7768},{"i":532,"o":0.7769,"h":0.7773,"l":0.7768,"c":0.7768},{"i":533,"o":0.7766,"h":0.7768,"l":0.7764,"c":0.7764},{"i":534,"o":0.7765,"h":0.7765,"l":0.7763,"c":0.7765},{"i":535,"o":0.7765,"h":0.7784,"l":0.7764,"c":0.778},{"i":536,"o":0.7774,"h":0.7782,"l":0.7769,"c":0.7776},{"i":537,"o":0.7776,"h":0.7779,"l":0.777,"c":0.7777},{"i":538,"o":0.7777,"h":0.7781,"l":0.7776,"c":0.7781},{"i":539,"o":0.7782,"h":0.7787,"l":0.778,"c":0.7783},
{"i":540,"o":0.7783,"h":0.7792,"l":0.7783,"c":0.779},{"i":541,"o":0.7789,"h":0.7791,"l":0.7783,"c":0.7783},{"i":542,"o":0.7784,"h":0.7787,"l":0.7782,"c":0.7782},{"i":543,"o":0.7782,"h":0.7783,"l":0.7778,"c":0.778},{"i":544,"o":0.7779,"h":0.778,"l":0.7777,"c":0.7777},{"i":545,"o":0.7777,"h":0.7785,"l":0.7777,"c":0.7784},{"i":546,"o":0.7785,"h":0.7789,"l":0.7781,"c":0.7789},{"i":547,"o":0.7788,"h":0.779,"l":0.7783,"c":0.7784},{"i":548,"o":0.7784,"h":0.7792,"l":0.7778,"c":0.7791},{"i":549,"o":0.779,"h":0.7791,"l":0.7779,"c":0.7779},
{"i":550,"o":0.778,"h":0.7783,"l":0.7778,"c":0.7779},{"i":551,"o":0.778,"h":0.7781,"l":0.7776,"c":0.7778},{"i":552,"o":0.7777,"h":0.7779,"l":0.7777,"c":0.7778},{"i":553,"o":0.7779,"h":0.7779,"l":0.7772,"c":0.7773},{"i":554,"o":0.7774,"h":0.7776,"l":0.7773,"c":0.7774},{"i":555,"o":0.7773,"h":0.7773,"l":0.7769,"c":0.7771},{"i":556,"o":0.7771,"h":0.7776,"l":0.7769,"c":0.7776},{"i":557,"o":0.7776,"h":0.7778,"l":0.7774,"c":0.7774},{"i":558,"o":0.7773,"h":0.7778,"l":0.7773,"c":0.7778},{"i":559,"o":0.7779,"h":0.778,"l":0.7772,"c":0.7772},
{"i":560,"o":0.7772,"h":0.7774,"l":0.7771,"c":0.7773},{"i":561,"o":0.7773,"h":0.7774,"l":0.7766,"c":0.777},{"i":562,"o":0.7771,"h":0.7772,"l":0.7766,"c":0.7766},{"i":563,"o":0.7767,"h":0.7767,"l":0.7759,"c":0.7762},{"i":564,"o":0.7762,"h":0.7767,"l":0.7761,"c":0.7761},{"i":565,"o":0.7762,"h":0.7766,"l":0.776,"c":0.7763},{"i":566,"o":0.7763,"h":0.7766,"l":0.776,"c":0.7765},{"i":567,"o":0.7765,"h":0.7769,"l":0.7764,"c":0.7769},{"i":568,"o":0.777,"h":0.7773,"l":0.7765,"c":0.7766},{"i":569,"o":0.7765,"h":0.7767,"l":0.7761,"c":0.7761},
{"i":570,"o":0.7761,"h":0.7764,"l":0.7759,"c":0.7762},{"i":571,"o":0.7761,"h":0.7762,"l":0.7757,"c":0.7758},{"i":572,"o":0.7759,"h":0.7759,"l":0.7756,"c":0.7757},{"i":573,"o":0.7759,"h":0.7763,"l":0.7758,"c":0.7762},{"i":574,"o":0.7762,"h":0.7766,"l":0.7762,"c":0.7764},{"i":575,"o":0.7764,"h":0.7766,"l":0.7763,"c":0.7764},{"i":576,"o":0.7765,"h":0.7768,"l":0.7764,"c":0.7767},{"i":577,"o":0.7766,"h":0.7767,"l":0.7765,"c":0.7767},{"i":578,"o":0.7768,"h":0.7777,"l":0.7763,"c":0.7776},{"i":579,"o":0.7777,"h":0.7791,"l":0.7774,"c":0.779},
{"i":580,"o":0.779,"h":0.7797,"l":0.7789,"c":0.779},{"i":581,"o":0.7791,"h":0.7807,"l":0.779,"c":0.7805},{"i":582,"o":0.7805,"h":0.7816,"l":0.7805,"c":0.7815},{"i":583,"o":0.7815,"h":0.7822,"l":0.7815,"c":0.782},{"i":584,"o":0.7821,"h":0.7822,"l":0.7816,"c":0.7818},{"i":585,"o":0.7817,"h":0.7835,"l":0.7817,"c":0.7829},{"i":586,"o":0.7831,"h":0.7843,"l":0.783,"c":0.7835},{"i":587,"o":0.7835,"h":0.7835,"l":0.7822,"c":0.7823},{"i":588,"o":0.7823,"h":0.7823,"l":0.782,"c":0.782},{"i":589,"o":0.7821,"h":0.7825,"l":0.7819,"c":0.7822},
{"i":590,"o":0.7823,"h":0.7826,"l":0.7819,"c":0.7825},{"i":591,"o":0.7824,"h":0.7825,"l":0.7812,"c":0.7814},{"i":592,"o":0.7814,"h":0.7816,"l":0.7809,"c":0.7812},{"i":593,"o":0.7812,"h":0.7821,"l":0.7806,"c":0.7817},{"i":594,"o":0.7816,"h":0.7822,"l":0.7815,"c":0.7822},{"i":595,"o":0.7821,"h":0.783,"l":0.7821,"c":0.7827},{"i":596,"o":0.7827,"h":0.783,"l":0.7827,"c":0.783},{"i":597,"o":0.783,"h":0.7831,"l":0.7812,"c":0.7813},{"i":598,"o":0.7814,"h":0.7827,"l":0.7813,"c":0.7827},{"i":599,"o":0.7826,"h":0.7828,"l":0.7814,"c":0.7815},
{"i":600,"o":0.7815,"h":0.7815,"l":0.7808,"c":0.7813},{"i":601,"o":0.7814,"h":0.7822,"l":0.7813,"c":0.7822},{"i":602,"o":0.7821,"h":0.7823,"l":0.7812,"c":0.7812},{"i":603,"o":0.7811,"h":0.7813,"l":0.781,"c":0.7811},{"i":604,"o":0.7812,"h":0.7816,"l":0.7811,"c":0.7815},{"i":605,"o":0.7815,"h":0.782,"l":0.7814,"c":0.782},{"i":606,"o":0.7819,"h":0.7822,"l":0.7819,"c":0.7822},{"i":607,"o":0.7823,"h":0.7825,"l":0.782,"c":0.7822},{"i":608,"o":0.7822,"h":0.7823,"l":0.7818,"c":0.7823},{"i":609,"o":0.7823,"h":0.7824,"l":0.7817,"c":0.7819},
{"i":610,"o":0.782,"h":0.7823,"l":0.782,"c":0.7821},{"i":611,"o":0.7821,"h":0.7822,"l":0.7819,"c":0.7821},{"i":612,"o":0.7822,"h":0.7824,"l":0.7821,"c":0.7823},{"i":613,"o":0.7822,"h":0.7823,"l":0.782,"c":0.782},{"i":614,"o":0.7819,"h":0.7819,"l":0.7816,"c":0.7816},{"i":615,"o":0.7816,"h":0.7818,"l":0.7815,"c":0.7817},{"i":616,"o":0.7818,"h":0.7819,"l":0.7816,"c":0.7817},{"i":617,"o":0.7818,"h":0.7819,"l":0.7815,"c":0.7818},{"i":618,"o":0.7818,"h":0.7821,"l":0.7818,"c":0.7821},{"i":619,"o":0.782,"h":0.7821,"l":0.7818,"c":0.7818},
{"i":620,"o":0.782,"h":0.7825,"l":0.7818,"c":0.7824},{"i":621,"o":0.7825,"h":0.783,"l":0.7824,"c":0.7827},{"i":622,"o":0.7829,"h":0.7829,"l":0.782,"c":0.7821},{"i":623,"o":0.7822,"h":0.7823,"l":0.7821,"c":0.7823},{"i":624,"o":0.7823,"h":0.7829,"l":0.7818,"c":0.782},{"i":625,"o":0.782,"h":0.782,"l":0.7805,"c":0.781},{"i":626,"o":0.7808,"h":0.7808,"l":0.7792,"c":0.7793},{"i":627,"o":0.7794,"h":0.7796,"l":0.7792,"c":0.7793},{"i":628,"o":0.7793,"h":0.7796,"l":0.7783,"c":0.7784},{"i":629,"o":0.7783,"h":0.7786,"l":0.7775,"c":0.7786},
{"i":630,"o":0.7785,"h":0.7794,"l":0.778,"c":0.7782},{"i":631,"o":0.7783,"h":0.7785,"l":0.7776,"c":0.7782},{"i":632,"o":0.7782,"h":0.7786,"l":0.7772,"c":0.7783},{"i":633,"o":0.7783,"h":0.7787,"l":0.778,"c":0.7786},{"i":634,"o":0.7787,"h":0.7793,"l":0.7784,"c":0.7791},{"i":635,"o":0.7792,"h":0.7792,"l":0.7787,"c":0.779}
],
"events":[
{"k":"E","i":511,"p":0.77701},{"k":"E","i":536,"p":0.77851},{"k":"E","i":548,"p":0.77952},{"k":"E","i":584,"p":0.7825},{"k":"E","i":589,"p":0.78281},{"k":"E","i":594,"p":0.7825},{"k":"E","i":600,"p":0.78182},{"k":"E","i":620,"p":0.78282},{"k":"E","i":624.3,"p":0.78321},{"k":"E","i":632,"p":0.77891},
{"k":"N","i":370,"p":0.77681},{"k":"N","i":383.2,"p":0.77541},{"k":"N","i":395,"p":0.77553},{"k":"N","i":454,"p":0.77572},{"k":"N","i":479.2,"p":0.77553},{"k":"N","i":553,"p":0.77822},{"k":"N","i":558,"p":0.77811},{"k":"N","i":568,"p":0.77762},{"k":"N","i":575,"p":0.77701},{"k":"N","i":590,"p":0.78292}
]},
"layer":[
{"data":{"values":[{"p":0.779}]},"mark":{"type":"rule","color":"#ff4d4d","strokeWidth":1.2,"strokeDash":[1,1]},"encoding":{"y":{"field":"p","type":"quantitative","axis":null,"scale":{"domain":[0.770322,0.789531],"nice":false,"zero":false}}}},
{"data":{"values":[]},"mark":"rule","encoding":{
"x":{"field":"i","type":"quantitative","axis":{"orient":"top","offset":2,"domain":true,"domainColor":"#cdd0d6","domainWidth":3,"ticks":false,"labels":false,"grid":false,"title":null}},
"y":{"field":"p","type":"quantitative","axis":{"orient":"left","offset":2.5,"domain":true,"domainColor":"#e3e6ee","domainWidth":5,"ticks":false,"labels":false,"grid":false,"title":null}}}},
{"data":{"values":[]},"mark":"rule","encoding":{
"x":{"field":"i","type":"quantitative","axis":{"orient":"bottom","offset":31,"domain":true,"domainColor":"#eceef2","domainWidth":4,"ticks":false,"labels":false,"grid":false,"title":null}},
"y":{"field":"p","type":"quantitative","axis":{"orient":"right","offset":72,"domain":true,"domainColor":"#c8ccd4","domainWidth":2,"ticks":false,"labels":false,"grid":false,"title":null}}}},
{"data":{"name":"candles"},"mark":{"type":"rule","color":"#6a6a6a","strokeWidth":1.5},"encoding":{
"x":{"field":"i","type":"quantitative","scale":{"domain":[-0.741,640.5],"nice":false,"zero":false},"axis":{"orient":"bottom","title":null,"values":[2,26,50,74,98,122,146,170,194,218,242,266,290,314,338,362,386,408,430,458,482,506,530,554,578,602,626],"labelExpr":"({'2':'6:00','26':'12:00','50':'18:00','74':'27','98':'06:00','122':'12:00','146':'18:00','170':'28','194':'06:00','218':'12:00','242':'18:00','266':'Mar','290':'06:00','314':'12:00','338':'18:00','362':'2','386':'06:00','408':'11:30','430':'4','458':'5','482':'06:00','506':'12:00','530':'18:00','554':'6','578':'06:00','602':'12:00','626':'18:00'})[datum.value]","labelFont":"Liberation Sans","labelFontSize":17,"labelColor":"#666666","labelPadding":4,"labelOverlap":false,"labelFlush":false,"labelBound":false,"labelFontWeight":{"condition":{"test":"datum.value==266","value":"bold"},"value":"normal"},"domain":true,"domainColor":"#555555","domainWidth":2,"tickColor":"#555555","tickSize":6,"tickWidth":1,"grid":true,"gridColor":"#f3f3f3","gridWidth":1}},
"y":{"field":"l","type":"quantitative","axis":{"orient":"right","title":null,"values":[0.771,0.772,0.773,0.774,0.775,0.776,0.777,0.778,0.779,0.78,0.781,0.782,0.783,0.784,0.785,0.786,0.787,0.788,0.789],"format":".4f","labelFont":"Liberation Sans","labelFontSize":17,"labelColor":"#7f7f7f","labelPadding":5,"labelOverlap":false,"labelFlush":false,"labelBound":false,"domain":true,"domainColor":"#555555","domainWidth":2,"tickColor":"#555555","tickSize":6,"tickWidth":1,"grid":true,"gridColor":"#f6f6f6","gridWidth":2}},
"y2":{"field":"h"}}},
{"data":{"name":"candles"},"mark":{"type":"bar","size":4,"strokeWidth":1},"encoding":{
"x":{"field":"i","type":"quantitative","axis":null},
"y":{"field":"o","type":"quantitative","axis":null},"y2":{"field":"c"},
"color":{"condition":{"test":"datum.c>=datum.o","value":"#00c400"},"value":"#e60000"},
"stroke":{"condition":{"test":"datum.c>=datum.o","value":"#2e5a33"},"value":"#5a1a1a"}}},
{"data":{"values":[{"p":0.779}]},"mark":{"type":"rule","opacity":0},"encoding":{"y":{"field":"p","type":"quantitative","axis":{"orient":"right","title":null,"zindex":1,"values":[0.779],"format":".4f","domain":false,"grid":false,"tickColor":"#f40000","tickSize":70,"tickWidth":24,"labelColor":"#ffffff","labelFont":"Liberation Sans","labelFontWeight":"bold","labelFontSize":17,"labelPadding":-59}}}},
{"data":{"name":"events"},"transform":[{"filter":"datum.k=='E'"}],"mark":{"type":"point","filled":true,"opacity":1,"size":560,"color":"#ffd000"},"encoding":{"x":{"field":"i","type":"quantitative","axis":null},"y":{"field":"p","type":"quantitative","axis":null}}},
{"data":{"name":"events"},"transform":[{"filter":"datum.k=='E'"}],"mark":{"type":"text","font":"Liberation Sans","fontWeight":"bold","fontSize":16,"color":"#000000","baseline":"middle"},"encoding":{"x":{"field":"i","type":"quantitative","axis":null},"y":{"field":"p","type":"quantitative","axis":null},"text":{"field":"k"}}},
{"data":{"name":"events"},"transform":[{"filter":"datum.k=='N'"}],"mark":{"type":"point","filled":true,"opacity":1,"size":560,"color":"#0a96fa"},"encoding":{"x":{"field":"i","type":"quantitative","axis":null},"y":{"field":"p","type":"quantitative","axis":null}}},
{"data":{"name":"events"},"transform":[{"filter":"datum.k=='N'"}],"mark":{"type":"text","font":"Liberation Sans","fontWeight":"bold","fontSize":16,"color":"#ffffff","baseline":"middle"},"encoding":{"x":{"field":"i","type":"quantitative","axis":null},"y":{"field":"p","type":"quantitative","axis":null},"text":{"field":"k"}}},
{"data":{"values":[{"i":44.2,"p":0.78918},{"i":49.1,"p":0.78918}]},"mark":{"type":"point","shape":"square","filled":true,"opacity":1,"size":484,"color":"#e3e3e3"},"encoding":{"x":{"field":"i","type":"quantitative","axis":null},"y":{"field":"p","type":"quantitative","axis":null}}},
{"data":{"values":[{"i":44.2,"p":0.78918,"t":"◉"},{"i":49.1,"p":0.78918,"t":"⚙"}]},"mark":{"type":"text","font":"DejaVu Sans","fontSize":19,"color":"#ffffff","baseline":"middle"},"encoding":{"x":{"field":"i","type":"quantitative","axis":null},"y":{"field":"p","type":"quantitative","axis":null},"text":{"field":"t"}}},
{"data":{"values":[{"i":2.88,"p":0.78918,"t":"⊟"}]},"mark":{"type":"text","font":"DejaVu Sans","fontSize":29,"color":"#808080","baseline":"middle"},"encoding":{"x":{"field":"i","type":"quantitative","axis":null},"y":{"field":"p","type":"quantitative","axis":null},"text":{"field":"t"}}},
{"data":{"values":[{"i":38.3,"p":0.78918,"t":"▾"}]},"mark":{"type":"text","font":"DejaVu Sans","fontSize":24,"color":"#c8c8c8","baseline":"middle"},"encoding":{"x":{"field":"i","type":"quantitative","axis":null},"y":{"field":"p","type":"quantitative","axis":null},"text":{"field":"t"}}},
{"data":{"values":[{"i":6.3,"p":0.78918,"t":"AUD/USD, 15,"}]},"mark":{"type":"text","font":"Open Sans","fontSize":27,"color":"#555555","align":"left","baseline":"middle"},"encoding":{"x":{"field":"i","type":"quantitative","axis":null},"y":{"field":"p","type":"quantitative","axis":null},"text":{"field":"t"}}},
{"data":{"values":[{"i":53.3,"p":0.78918,"t":"O"},{"i":68.6,"p":0.78918,"t":"H"},{"i":84,"p":0.78918,"t":"L"},{"i":98.4,"p":0.78918,"t":"C"}]},"mark":{"type":"text","font":"Open Sans","fontSize":18,"color":"#666666","align":"left","baseline":"middle"},"encoding":{"x":{"field":"i","type":"quantitative","axis":null},"y":{"field":"p","type":"quantitative","axis":null},"text":{"field":"t"}}},
{"data":{"values":[{"i":57.1,"p":0.78918,"t":"0.7792"},{"i":72.1,"p":0.78918,"t":"0.7792"},{"i":86.8,"p":0.78918,"t":"0.7787"},{"i":102,"p":0.78918,"t":"0.7790"}]},"mark":{"type":"text","font":"Open Sans","fontSize":18,"color":"#6b1f1f","align":"left","baseline":"middle"},"encoding":{"x":{"field":"i","type":"quantitative","axis":null},"y":{"field":"p","type":"quantitative","axis":null},"text":{"field":"t"}}},
{"data":{"values":[{"i":617.4,"p":0.78921}]},"mark":{"type":"point","filled":true,"opacity":1,"size":81,"color":"#2e8b57"},"encoding":{"x":{"field":"i","type":"quantitative","axis":null},"y":{"field":"p","type":"quantitative","axis":null}}},
{"data":{"values":[{"i":619.5,"p":0.78921,"t":"Market Open"}]},"mark":{"type":"text","font":"Open Sans","fontSize":18,"color":"#2e8b57","align":"left","baseline":"middle"},"encoding":{"x":{"field":"i","type":"quantitative","axis":null},"y":{"field":"p","type":"quantitative","axis":null},"text":{"field":"t"}}},
{"data":{"values":[{"i":3.5,"p":0.77063,"t":"Investing"}]},"mark":{"type":"text","font":"Liberation Sans","fontWeight":"bold","fontSize":33,"color":"#000000","align":"left","baseline":"alphabetic"},"encoding":{"x":{"field":"i","type":"quantitative","axis":null},"y":{"field":"p","type":"quantitative","axis":null},"text":{"field":"t"}}},
{"data":{"values":[{"i":28.9,"p":0.77063,"t":".com"}]},"mark":{"type":"text","font":"Liberation Sans","fontSize":21,"color":"#555555","align":"left","baseline":"alphabetic"},"encoding":{"x":{"field":"i","type":"quantitative","axis":null},"y":{"field":"p","type":"quantitative","axis":null},"text":{"field":"t"}}},
{"data":{"values":[{"i":20.6,"p":0.77091}]},"mark":{"type":"point","filled":true,"opacity":1,"size":16,"color":"#f7941d"},"encoding":{"x":{"field":"i","type":"quantitative","axis":null},"y":{"field":"p","type":"quantitative","axis":null}}}
],
"resolve":{"axis":{"x":"independent","y":"independent"}}}
